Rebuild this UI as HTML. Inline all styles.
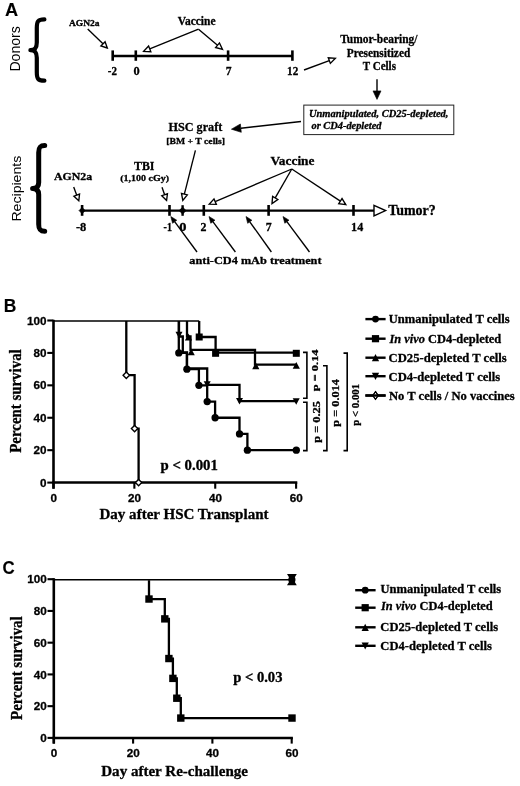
<!DOCTYPE html>
<html><head><meta charset="utf-8"><title>Figure</title>
<style>html,body{margin:0;padding:0;background:#fff;}svg{display:block;}text{stroke:#000;stroke-width:0.3px;stroke-linejoin:round;fill:#000;}</style>
</head><body>
<svg width="520" height="786" viewBox="0 0 520 786">
<rect width="520" height="786" fill="#fff"/>
<path d="M44.4,19.4 C37.8,19.4 36.8,21.4 36.8,28.0 L36.8,42.6 C36.8,48.2 34.8,50.2 30.4,50.2 C34.8,50.2 36.8,52.2 36.8,57.80 L36.8,72.1 C36.8,78.7 37.8,80.7 44.4,80.7" fill="none" stroke="#000" stroke-width="4.2" stroke-linecap="round" stroke-linejoin="round"/>
<line x1="87.7" y1="29" x2="102.99" y2="43.82" stroke="#000" stroke-width="1.35" stroke-linecap="butt"/>
<polygon points="107.30,48.00 100.90,45.98 105.08,41.67" fill="#fff" stroke="#000" stroke-width="1.35" stroke-linejoin="miter"/>
<line x1="112.5" y1="56" x2="292.5" y2="56" stroke="#000" stroke-width="2.7" stroke-linecap="butt"/>
<line x1="112.7" y1="50.4" x2="112.7" y2="60.8" stroke="#000" stroke-width="2.6" stroke-linecap="butt"/>
<line x1="135.8" y1="50.4" x2="135.8" y2="60.8" stroke="#000" stroke-width="2.6" stroke-linecap="butt"/>
<line x1="228.1" y1="50.4" x2="228.1" y2="60.8" stroke="#000" stroke-width="2.6" stroke-linecap="butt"/>
<line x1="292.4" y1="50.4" x2="292.4" y2="60.8" stroke="#000" stroke-width="2.6" stroke-linecap="butt"/>
<line x1="198.5" y1="29.2" x2="149.72" y2="48.86" stroke="#000" stroke-width="1.35" stroke-linecap="butt"/>
<polygon points="143.70,51.30 148.61,46.09 150.85,51.65" fill="#fff" stroke="#000" stroke-width="1.35" stroke-linejoin="miter"/>
<line x1="198.5" y1="29.2" x2="217.52" y2="45.21" stroke="#000" stroke-width="1.35" stroke-linecap="butt"/>
<polygon points="222.50,49.40 215.60,47.51 219.46,42.92" fill="#fff" stroke="#000" stroke-width="1.35" stroke-linejoin="miter"/>
<line x1="304" y1="70" x2="329.30" y2="60.56" stroke="#000" stroke-width="1.35" stroke-linecap="butt"/>
<polygon points="335.40,58.30 330.36,63.38 328.26,57.76" fill="#fff" stroke="#000" stroke-width="1.35" stroke-linejoin="miter"/>
<line x1="377" y1="79.2" x2="377.0" y2="90.9" stroke="#000" stroke-width="1.4" stroke-linecap="butt"/>
<polygon points="377.00,99.40 373.00,90.90 381.00,90.90" fill="#000" stroke="#000" stroke-width="0.6"/>
<rect x="303.8" y="105.1" width="150" height="29.5" fill="none" stroke="#222" stroke-width="1"/>
<line x1="301" y1="121.5" x2="240.84" y2="128.15" stroke="#000" stroke-width="1.5" stroke-linecap="butt"/>
<polygon points="231.40,129.20 240.38,123.98 241.30,132.33" fill="#000" stroke="#000" stroke-width="0.6"/>
<path d="M44.7,145.4 C39.7,145.4 38.7,147.4 38.7,152.4 L38.7,182.4 C38.7,186.4 36.7,188.4 32.6,188.4 C36.7,188.4 38.7,190.4 38.7,194.4 L38.7,224.2 C38.7,229.2 39.7,231.2 44.7,231.2" fill="none" stroke="#000" stroke-width="5.0" stroke-linecap="round" stroke-linejoin="round"/>
<line x1="73.7" y1="186.9" x2="76.73" y2="195.16" stroke="#000" stroke-width="1.35" stroke-linecap="butt"/>
<polygon points="78.80,200.80 73.92,196.20 79.55,194.13" fill="#fff" stroke="#000" stroke-width="1.35" stroke-linejoin="miter"/>
<line x1="162" y1="187.3" x2="164.61" y2="194.73" stroke="#000" stroke-width="1.35" stroke-linecap="butt"/>
<polygon points="166.60,200.40 161.78,195.73 167.44,193.74" fill="#fff" stroke="#000" stroke-width="1.35" stroke-linejoin="miter"/>
<line x1="195.4" y1="150.4" x2="184.38" y2="194.09" stroke="#000" stroke-width="1.35" stroke-linecap="butt"/>
<polygon points="182.80,200.40 181.48,193.36 187.30,194.83" fill="#fff" stroke="#000" stroke-width="1.35" stroke-linejoin="miter"/>
<line x1="82" y1="210.6" x2="374" y2="210.6" stroke="#000" stroke-width="2.4" stroke-linecap="butt"/>
<polygon points="374,205.29 385.6,210.6 374,215.9" fill="#fff" stroke="#000" stroke-width="1.4"/>
<line x1="82.1" y1="205" x2="82.1" y2="215.8" stroke="#000" stroke-width="2.6" stroke-linecap="butt"/>
<line x1="169.5" y1="205" x2="169.5" y2="215.8" stroke="#000" stroke-width="2.6" stroke-linecap="butt"/>
<line x1="203.8" y1="205" x2="203.8" y2="215.8" stroke="#000" stroke-width="2.6" stroke-linecap="butt"/>
<line x1="268.6" y1="205" x2="268.6" y2="215.8" stroke="#000" stroke-width="2.6" stroke-linecap="butt"/>
<line x1="353.5" y1="205" x2="353.5" y2="215.8" stroke="#000" stroke-width="2.6" stroke-linecap="butt"/>
<polygon points="82.1,207.6 85.1,210.6 82.1,213.6 79.1,210.6" fill="#000" stroke="#000" stroke-width="0.8"/>
<polygon points="182.6,207.2 186.0,210.6 182.6,214.0 179.2,210.6" fill="#000" stroke="#000" stroke-width="0.8"/>
<line x1="182.6" y1="205.2" x2="182.6" y2="215.8" stroke="#000" stroke-width="2.4" stroke-linecap="butt"/>
<line x1="291.8" y1="169" x2="215.17" y2="201.65" stroke="#000" stroke-width="1.35" stroke-linecap="butt"/>
<polygon points="209.20,204.20 214.00,198.89 216.36,204.41" fill="#fff" stroke="#000" stroke-width="1.35" stroke-linejoin="miter"/>
<line x1="291.8" y1="169" x2="275.22" y2="197.95" stroke="#000" stroke-width="1.35" stroke-linecap="butt"/>
<polygon points="272.00,203.60 272.62,196.47 277.83,199.45" fill="#fff" stroke="#000" stroke-width="1.35" stroke-linejoin="miter"/>
<line x1="291.8" y1="169" x2="340.37" y2="201.11" stroke="#000" stroke-width="1.35" stroke-linecap="butt"/>
<polygon points="345.80,204.70 338.72,203.62 342.03,198.61" fill="#fff" stroke="#000" stroke-width="1.35" stroke-linejoin="miter"/>
<line x1="197" y1="252" x2="174.65" y2="221.72" stroke="#000" stroke-width="1.35" stroke-linecap="butt"/>
<polygon points="170.80,216.50 176.75,220.19 172.57,223.27" fill="#000" stroke="#000" stroke-width="0.6"/>
<line x1="235.4" y1="252" x2="212.87" y2="221.71" stroke="#000" stroke-width="1.35" stroke-linecap="butt"/>
<polygon points="209.00,216.50 214.97,220.16 210.79,223.27" fill="#000" stroke="#000" stroke-width="0.6"/>
<line x1="271.4" y1="252" x2="249.78" y2="221.78" stroke="#000" stroke-width="1.35" stroke-linecap="butt"/>
<polygon points="246.00,216.50 251.90,220.27 247.67,223.30" fill="#000" stroke="#000" stroke-width="0.6"/>
<line x1="309.5" y1="252" x2="286.88" y2="221.70" stroke="#000" stroke-width="1.35" stroke-linecap="butt"/>
<polygon points="283.00,216.50 288.97,220.15 284.80,223.26" fill="#000" stroke="#000" stroke-width="0.6"/>
<line x1="53.5" y1="319.8" x2="53.5" y2="488.7" stroke="#000" stroke-width="2.6" stroke-linecap="butt"/>
<line x1="52.2" y1="482.6" x2="297.3" y2="482.6" stroke="#000" stroke-width="2.5" stroke-linecap="butt"/>
<line x1="47.3" y1="482.6" x2="53.5" y2="482.6" stroke="#000" stroke-width="2.1" stroke-linecap="butt"/>
<text x="46.5" y="486.70" text-anchor="end" style="font-family:'Liberation Sans',sans-serif;font-weight:bold;font-size:11.7px">0</text>
<line x1="47.3" y1="450.18" x2="53.5" y2="450.18" stroke="#000" stroke-width="2.1" stroke-linecap="butt"/>
<text x="46.5" y="454.28" text-anchor="end" style="font-family:'Liberation Sans',sans-serif;font-weight:bold;font-size:11.7px">20</text>
<line x1="47.3" y1="417.76" x2="53.5" y2="417.76" stroke="#000" stroke-width="2.1" stroke-linecap="butt"/>
<text x="46.5" y="421.86" text-anchor="end" style="font-family:'Liberation Sans',sans-serif;font-weight:bold;font-size:11.7px">40</text>
<line x1="47.3" y1="385.34" x2="53.5" y2="385.34" stroke="#000" stroke-width="2.1" stroke-linecap="butt"/>
<text x="46.5" y="389.44" text-anchor="end" style="font-family:'Liberation Sans',sans-serif;font-weight:bold;font-size:11.7px">60</text>
<line x1="47.3" y1="352.92" x2="53.5" y2="352.92" stroke="#000" stroke-width="2.1" stroke-linecap="butt"/>
<text x="46.5" y="357.02" text-anchor="end" style="font-family:'Liberation Sans',sans-serif;font-weight:bold;font-size:11.7px">80</text>
<line x1="47.3" y1="320.5" x2="53.5" y2="320.5" stroke="#000" stroke-width="2.1" stroke-linecap="butt"/>
<text x="46.5" y="324.60" text-anchor="end" style="font-family:'Liberation Sans',sans-serif;font-weight:bold;font-size:11.7px">100</text>
<line x1="53.5" y1="482.6" x2="53.5" y2="488.7" stroke="#000" stroke-width="2.1" stroke-linecap="butt"/>
<text x="53.70" y="501.9" text-anchor="middle" style="font-family:'Liberation Sans',sans-serif;font-weight:bold;font-size:11.7px">0</text>
<line x1="134.36" y1="482.6" x2="134.36" y2="488.7" stroke="#000" stroke-width="2.1" stroke-linecap="butt"/>
<text x="134.57" y="501.9" text-anchor="middle" style="font-family:'Liberation Sans',sans-serif;font-weight:bold;font-size:11.7px">20</text>
<line x1="215.23" y1="482.6" x2="215.23" y2="488.7" stroke="#000" stroke-width="2.1" stroke-linecap="butt"/>
<text x="215.43" y="501.9" text-anchor="middle" style="font-family:'Liberation Sans',sans-serif;font-weight:bold;font-size:11.7px">40</text>
<line x1="296.1" y1="482.6" x2="296.1" y2="488.7" stroke="#000" stroke-width="2.1" stroke-linecap="butt"/>
<text x="296.30" y="501.9" text-anchor="middle" style="font-family:'Liberation Sans',sans-serif;font-weight:bold;font-size:11.7px">60</text>
<polyline points="126.30,321.00 126.30,375.20 134.60,375.20 134.60,428.60 138.60,428.60 138.60,482.60" fill="none" stroke="#000" stroke-width="2.3" stroke-linejoin="miter"/>
<line x1="53.5" y1="321.0" x2="199.2" y2="321.0" stroke="#000" stroke-width="1.5" stroke-linecap="butt"/>
<polyline points="178.80,321.00 178.80,352.92 186.90,352.92 186.90,369.13 198.90,369.13 198.90,385.34 207.20,385.34 207.20,401.55 215.10,401.55 215.10,417.76 239.50,417.76 239.50,433.97 247.40,433.97 247.40,450.18 296.30,450.18" fill="none" stroke="#000" stroke-width="2.3" stroke-linejoin="miter"/>
<polyline points="179.00,321.00 179.00,336.50 182.80,336.50 182.80,352.30 187.00,352.30 187.00,368.50 207.20,368.50 207.20,384.80 239.50,384.80 239.50,401.20 296.30,401.20" fill="none" stroke="#000" stroke-width="2.3" stroke-linejoin="miter"/>
<polyline points="187.00,321.00 187.00,336.50 190.50,336.50 190.50,349.80 255.00,349.80 255.00,364.60 296.30,364.60" fill="none" stroke="#000" stroke-width="2.3" stroke-linejoin="miter"/>
<polyline points="199.20,321.00 199.20,337.00 215.60,337.00 215.60,352.60 296.30,352.60" fill="none" stroke="#000" stroke-width="2.3" stroke-linejoin="miter"/>
<circle cx="178.8" cy="352.92" r="3.65" fill="#000"/>
<circle cx="186.9" cy="369.13" r="3.65" fill="#000"/>
<circle cx="198.9" cy="385.34" r="3.65" fill="#000"/>
<circle cx="207.2" cy="401.55" r="3.65" fill="#000"/>
<circle cx="215.1" cy="417.76" r="3.65" fill="#000"/>
<circle cx="239.5" cy="433.97" r="3.65" fill="#000"/>
<circle cx="247.4" cy="450.18" r="3.65" fill="#000"/>
<circle cx="296.3" cy="450.18" r="3.65" fill="#000"/>
<polygon points="179,338.25 182.5,331.75 175.5,331.75" fill="#000"/>
<polygon points="207.2,387.75 210.7,381.25 203.7,381.25" fill="#000"/>
<polygon points="239.5,404.55 243.0,398.05 236.0,398.05" fill="#000"/>
<polygon points="296.2,404.65 299.7,398.15 292.7,398.15" fill="#000"/>
<polygon points="188.5,333.6 192.1,340.4 184.9,340.4" fill="#000"/>
<polygon points="191.2,348.40 194.79,355.2 187.6,355.2" fill="#000"/>
<polygon points="255.8,362.5 259.40,369.29 252.20,369.29" fill="#000"/>
<polygon points="296.3,361.90 299.90,368.7 292.7,368.7" fill="#000"/>
<rect x="195.7" y="333.5" width="7.0" height="7.0" fill="#000"/>
<rect x="212.1" y="349.8" width="7.0" height="7.0" fill="#000"/>
<rect x="292.8" y="349.8" width="7.0" height="7.0" fill="#000"/>
<polygon points="126.3,372.0 129.5,375.2 126.3,378.4 123.1,375.2" fill="#fff" stroke="#000" stroke-width="1.4"/>
<polygon points="134.6,425.40 137.79,428.6 134.6,431.8 131.4,428.6" fill="#fff" stroke="#000" stroke-width="1.4"/>
<polygon points="138.6,479.40 141.79,482.6 138.6,485.8 135.4,482.6" fill="#fff" stroke="#000" stroke-width="1.4"/>
<polyline points="303.00,352.40 306.90,352.40 306.90,398.20 303.00,398.20" fill="none" stroke="#000" stroke-width="1.6" stroke-linejoin="miter"/>
<polyline points="303.00,402.30 306.90,402.30 306.90,450.60 303.00,450.60" fill="none" stroke="#000" stroke-width="1.6" stroke-linejoin="miter"/>
<polyline points="323.00,365.80 326.90,365.80 326.90,450.60 323.00,450.60" fill="none" stroke="#000" stroke-width="1.6" stroke-linejoin="miter"/>
<polyline points="343.50,353.10 347.20,353.10 347.20,450.60 343.50,450.60" fill="none" stroke="#000" stroke-width="1.6" stroke-linejoin="miter"/>
<line x1="365.4" y1="319.1" x2="385.6" y2="319.1" stroke="#000" stroke-width="2.4" stroke-linecap="butt"/>
<circle cx="375.5" cy="319.1" r="3.4" fill="#000"/>
<line x1="365.4" y1="338.7" x2="385.6" y2="338.7" stroke="#000" stroke-width="2.4" stroke-linecap="butt"/>
<rect x="371.9" y="335.09" width="7.2" height="7.2" fill="#000"/>
<line x1="365.4" y1="357.7" x2="385.6" y2="357.7" stroke="#000" stroke-width="2.4" stroke-linecap="butt"/>
<polygon points="375.5,354.09 379.1,361.3 371.9,361.3" fill="#000"/>
<line x1="365.4" y1="376.2" x2="385.6" y2="376.2" stroke="#000" stroke-width="2.4" stroke-linecap="butt"/>
<polygon points="375.5,380.0 379.1,372.79 371.9,372.79" fill="#000"/>
<line x1="365.4" y1="395.5" x2="385.6" y2="395.5" stroke="#000" stroke-width="2.4" stroke-linecap="butt"/>
<polygon points="375.5,391.6 378.2,395.5 375.5,399.4 372.8,395.5" fill="#fff" stroke="#000" stroke-width="1.1"/>
<line x1="365.4" y1="395.5" x2="385.6" y2="395.5" stroke="#000" stroke-width="2.4" stroke-linecap="butt"/>
<polygon points="375.5,391.6 378.2,395.5 375.5,399.4 372.8,395.5" fill="none" stroke="#000" stroke-width="1.1"/>
<line x1="53.8" y1="578.2" x2="53.8" y2="743.6" stroke="#000" stroke-width="2.6" stroke-linecap="butt"/>
<line x1="52.5" y1="737.9" x2="292.9" y2="737.9" stroke="#000" stroke-width="2.5" stroke-linecap="butt"/>
<line x1="47.5" y1="737.9" x2="53.8" y2="737.9" stroke="#000" stroke-width="2.1" stroke-linecap="butt"/>
<text x="46.7" y="742.00" text-anchor="end" style="font-family:'Liberation Sans',sans-serif;font-weight:bold;font-size:11.7px">0</text>
<line x1="47.5" y1="706.16" x2="53.8" y2="706.16" stroke="#000" stroke-width="2.1" stroke-linecap="butt"/>
<text x="46.7" y="710.26" text-anchor="end" style="font-family:'Liberation Sans',sans-serif;font-weight:bold;font-size:11.7px">20</text>
<line x1="47.5" y1="674.42" x2="53.8" y2="674.42" stroke="#000" stroke-width="2.1" stroke-linecap="butt"/>
<text x="46.7" y="678.52" text-anchor="end" style="font-family:'Liberation Sans',sans-serif;font-weight:bold;font-size:11.7px">40</text>
<line x1="47.5" y1="642.68" x2="53.8" y2="642.68" stroke="#000" stroke-width="2.1" stroke-linecap="butt"/>
<text x="46.7" y="646.78" text-anchor="end" style="font-family:'Liberation Sans',sans-serif;font-weight:bold;font-size:11.7px">60</text>
<line x1="47.5" y1="610.93" x2="53.8" y2="610.93" stroke="#000" stroke-width="2.1" stroke-linecap="butt"/>
<text x="46.7" y="615.04" text-anchor="end" style="font-family:'Liberation Sans',sans-serif;font-weight:bold;font-size:11.7px">80</text>
<line x1="47.5" y1="579.2" x2="53.8" y2="579.2" stroke="#000" stroke-width="2.1" stroke-linecap="butt"/>
<text x="46.7" y="583.30" text-anchor="end" style="font-family:'Liberation Sans',sans-serif;font-weight:bold;font-size:11.7px">100</text>
<line x1="53.8" y1="737.9" x2="53.8" y2="743.6" stroke="#000" stroke-width="2.1" stroke-linecap="butt"/>
<text x="54.00" y="756.5" text-anchor="middle" style="font-family:'Liberation Sans',sans-serif;font-weight:bold;font-size:11.7px">0</text>
<line x1="133.1" y1="737.9" x2="133.1" y2="743.6" stroke="#000" stroke-width="2.1" stroke-linecap="butt"/>
<text x="133.30" y="756.5" text-anchor="middle" style="font-family:'Liberation Sans',sans-serif;font-weight:bold;font-size:11.7px">20</text>
<line x1="212.39" y1="737.9" x2="212.39" y2="743.6" stroke="#000" stroke-width="2.1" stroke-linecap="butt"/>
<text x="212.60" y="756.5" text-anchor="middle" style="font-family:'Liberation Sans',sans-serif;font-weight:bold;font-size:11.7px">40</text>
<line x1="291.7" y1="737.9" x2="291.7" y2="743.6" stroke="#000" stroke-width="2.1" stroke-linecap="butt"/>
<text x="291.90" y="756.5" text-anchor="middle" style="font-family:'Liberation Sans',sans-serif;font-weight:bold;font-size:11.7px">60</text>
<line x1="53.8" y1="579.8" x2="291.7" y2="579.8" stroke="#000" stroke-width="1.6" stroke-linecap="butt"/>
<polyline points="149.00,580.20 149.00,599.04 164.80,599.04 164.80,618.88 168.90,618.88 168.90,658.55 172.90,658.55 172.90,678.39 176.80,678.39 176.80,698.23 180.80,698.23 180.80,718.06 292.00,718.06" fill="none" stroke="#000" stroke-width="2.3" stroke-linejoin="miter"/>
<rect x="145.3" y="595.33" width="7.4" height="7.4" fill="#000"/>
<rect x="161.10" y="615.17" width="7.4" height="7.4" fill="#000"/>
<rect x="165.20" y="654.84" width="7.4" height="7.4" fill="#000"/>
<rect x="169.20" y="674.68" width="7.4" height="7.4" fill="#000"/>
<rect x="173.10" y="694.52" width="7.4" height="7.4" fill="#000"/>
<rect x="177.10" y="714.36" width="7.4" height="7.4" fill="#000"/>
<rect x="288.3" y="714.36" width="7.4" height="7.4" fill="#000"/>
<polygon points="291.9,577.3 296.79,585.3 287.0,585.3" fill="#000"/>
<polygon points="291.9,582.0 296.79,574.0 287.0,574.0" fill="#000"/>
<circle cx="291.9" cy="579.7" r="3.6" fill="#000"/>
<line x1="355.2" y1="590.2" x2="375.6" y2="590.2" stroke="#000" stroke-width="2.4" stroke-linecap="butt"/>
<circle cx="365.2" cy="590.2" r="3.4" fill="#000"/>
<line x1="355.2" y1="607.7" x2="375.6" y2="607.7" stroke="#000" stroke-width="2.4" stroke-linecap="butt"/>
<rect x="361.59" y="604.1" width="7.2" height="7.2" fill="#000"/>
<line x1="355.2" y1="627.3" x2="375.6" y2="627.3" stroke="#000" stroke-width="2.4" stroke-linecap="butt"/>
<polygon points="365.2,623.69 368.8,630.9 361.59,630.9" fill="#000"/>
<line x1="355.2" y1="645.8" x2="375.6" y2="645.8" stroke="#000" stroke-width="2.4" stroke-linecap="butt"/>
<polygon points="365.2,649.6 368.8,642.4 361.59,642.4" fill="#000"/>
<text x="5.10" y="15.60" style="font-family:'Liberation Sans',sans-serif;font-weight:bold;font-size:18.26px;;stroke-width:0.12px" textLength="13.16" lengthAdjust="spacingAndGlyphs">A</text>
<text transform="translate(19.60,48.93) rotate(-90)" text-anchor="middle" style="font-family:'Liberation Sans',sans-serif;font-size:14.87px;;stroke-width:0" textLength="45.32" lengthAdjust="spacingAndGlyphs">Donors</text>
<text x="69.00" y="25.60" style="font-family:'Liberation Serif',serif;font-weight:bold;font-size:8.90px;" textLength="30.50" lengthAdjust="spacingAndGlyphs">AGN2a</text>
<text x="177.74" y="25.00" style="font-family:'Liberation Serif',serif;font-weight:bold;font-size:11.81px;" textLength="37.75" lengthAdjust="spacingAndGlyphs">Vaccine</text>
<text x="107.84" y="74.50" style="font-family:'Liberation Serif',serif;font-weight:bold;font-size:11.88px;" textLength="9.17" lengthAdjust="spacingAndGlyphs">-2</text>
<text x="133.56" y="74.50" style="font-family:'Liberation Serif',serif;font-weight:bold;font-size:11.88px;" textLength="6.18" lengthAdjust="spacingAndGlyphs">0</text>
<text x="225.64" y="74.50" style="font-family:'Liberation Serif',serif;font-weight:bold;font-size:12.03px;" textLength="5.83" lengthAdjust="spacingAndGlyphs">7</text>
<text x="287.06" y="74.50" style="font-family:'Liberation Serif',serif;font-weight:bold;font-size:12.03px;" textLength="11.17" lengthAdjust="spacingAndGlyphs">12</text>
<text x="340.24" y="43.00" style="font-family:'Liberation Serif',serif;font-weight:bold;font-size:12.58px;" textLength="77.28" lengthAdjust="spacingAndGlyphs">Tumor-bearing/</text>
<text x="346.76" y="56.80" style="font-family:'Liberation Serif',serif;font-weight:bold;font-size:12.42px;" textLength="63.50" lengthAdjust="spacingAndGlyphs">Presensitized</text>
<text x="362.74" y="70.10" style="font-family:'Liberation Serif',serif;font-weight:bold;font-size:12.42px;" textLength="33.24" lengthAdjust="spacingAndGlyphs">T Cells</text>
<text x="308.90" y="116.60" style="font-family:'Liberation Serif',serif;font-weight:bold;font-size:10.58px;font-style:italic" textLength="139.59" lengthAdjust="spacingAndGlyphs">Unmanipulated, CD25-depleted,</text>
<text x="311.50" y="128.50" style="font-family:'Liberation Serif',serif;font-weight:bold;font-size:9.97px;font-style:italic" textLength="70.03" lengthAdjust="spacingAndGlyphs">or CD4-depleted</text>
<text x="168.52" y="130.80" style="font-family:'Liberation Serif',serif;font-weight:bold;font-size:13.04px;" textLength="53.76" lengthAdjust="spacingAndGlyphs">HSC graft</text>
<text x="166.36" y="143.50" style="font-family:'Liberation Serif',serif;font-weight:bold;font-size:9.05px;" textLength="58.64" lengthAdjust="spacingAndGlyphs">[BM + T cells]</text>
<text transform="translate(20.50,188.67) rotate(-90)" text-anchor="middle" style="font-family:'Liberation Sans',sans-serif;font-size:13.14px;;stroke-width:0" textLength="65.81" lengthAdjust="spacingAndGlyphs">Recipients</text>
<text x="54.00" y="180.00" style="font-family:'Liberation Serif',serif;font-weight:bold;font-size:10.58px;" textLength="38.23" lengthAdjust="spacingAndGlyphs">AGN2a</text>
<text x="134.00" y="170.30" style="font-family:'Liberation Serif',serif;font-weight:bold;font-size:12.42px;" textLength="20.47" lengthAdjust="spacingAndGlyphs">TBI</text>
<text x="120.30" y="180.70" style="font-family:'Liberation Serif',serif;font-weight:bold;font-size:8.90px;" textLength="48.69" lengthAdjust="spacingAndGlyphs">(1,100 cGy)</text>
<text x="75.94" y="231.30" style="font-family:'Liberation Serif',serif;font-weight:bold;font-size:12.33px;" textLength="10.38" lengthAdjust="spacingAndGlyphs">-8</text>
<text x="163.56" y="231.30" style="font-family:'Liberation Serif',serif;font-weight:bold;font-size:12.48px;" textLength="8.40" lengthAdjust="spacingAndGlyphs">-1</text>
<text x="179.24" y="231.40" style="font-family:'Liberation Serif',serif;font-weight:bold;font-size:12.18px;" textLength="7.23" lengthAdjust="spacingAndGlyphs">0</text>
<text x="200.58" y="231.30" style="font-family:'Liberation Serif',serif;font-weight:bold;font-size:12.03px;" textLength="5.97" lengthAdjust="spacingAndGlyphs">2</text>
<text x="265.86" y="231.00" style="font-family:'Liberation Serif',serif;font-weight:bold;font-size:11.88px;" textLength="5.96" lengthAdjust="spacingAndGlyphs">7</text>
<text x="351.10" y="231.40" style="font-family:'Liberation Serif',serif;font-weight:bold;font-size:12.33px;" textLength="12.08" lengthAdjust="spacingAndGlyphs">14</text>
<text x="388.16" y="214.80" style="font-family:'Liberation Serif',serif;font-weight:bold;font-size:13.80px;" textLength="47.59" lengthAdjust="spacingAndGlyphs">Tumor?</text>
<text x="270.46" y="164.60" style="font-family:'Liberation Serif',serif;font-weight:bold;font-size:12.73px;" textLength="43.99" lengthAdjust="spacingAndGlyphs">Vaccine</text>
<text x="189.34" y="264.10" style="font-family:'Liberation Serif',serif;font-weight:bold;font-size:11.35px;" textLength="132.22" lengthAdjust="spacingAndGlyphs">anti-CD4 mAb treatment</text>
<text x="3.78" y="312.20" style="font-family:'Liberation Sans',sans-serif;font-weight:bold;font-size:17.94px;;stroke-width:0.12px" textLength="12.63" lengthAdjust="spacingAndGlyphs">B</text>
<text transform="translate(21.10,401.02) rotate(-90)" text-anchor="middle" style="font-family:'Liberation Serif',serif;font-weight:bold;font-size:16.41px;" textLength="103.47" lengthAdjust="spacingAndGlyphs">Percent survival</text>
<text x="99.50" y="519.40" style="font-family:'Liberation Serif',serif;font-weight:bold;font-size:15.18px;" textLength="169.00" lengthAdjust="spacingAndGlyphs">Day after HSC Transplant</text>
<text x="160.52" y="470.30" style="font-family:'Liberation Serif',serif;font-weight:bold;font-size:13.68px;" textLength="57.42" lengthAdjust="spacingAndGlyphs">p &lt; 0.001</text>
<text transform="translate(317.50,370.38) rotate(-90)" text-anchor="middle" style="font-family:'Liberation Serif',serif;font-weight:bold;font-size:9.02px;" textLength="41.73" lengthAdjust="spacingAndGlyphs">p = 0.14</text>
<text transform="translate(319.80,421.92) rotate(-90)" text-anchor="middle" style="font-family:'Liberation Serif',serif;font-weight:bold;font-size:9.77px;" textLength="41.73" lengthAdjust="spacingAndGlyphs">p = 0.25</text>
<text transform="translate(339.30,402.88) rotate(-90)" text-anchor="middle" style="font-family:'Liberation Serif',serif;font-weight:bold;font-size:10.98px;" textLength="47.73" lengthAdjust="spacingAndGlyphs">p = 0.014</text>
<text transform="translate(359.30,404.81) rotate(-90)" text-anchor="middle" style="font-family:'Liberation Serif',serif;font-weight:bold;font-size:10.68px;" textLength="41.95" lengthAdjust="spacingAndGlyphs">p &lt; 0.001</text>
<text x="388.80" y="323.10" style="font-family:'Liberation Serif',serif;font-weight:bold;font-size:12.73px;" textLength="120.95" lengthAdjust="spacingAndGlyphs">Unmanipulated T cells</text>
<text x="389.44" y="342.90" style="font-family:'Liberation Serif',serif;font-weight:bold;font-size:12.73px;" textLength="111.78" lengthAdjust="spacingAndGlyphs"><tspan style="font-style:italic">In vivo</tspan> CD4-depleted</text>
<text x="388.60" y="362.00" style="font-family:'Liberation Serif',serif;font-weight:bold;font-size:13.04px;" textLength="118.17" lengthAdjust="spacingAndGlyphs">CD25-depleted T cells</text>
<text x="388.60" y="381.30" style="font-family:'Liberation Serif',serif;font-weight:bold;font-size:12.88px;" textLength="111.67" lengthAdjust="spacingAndGlyphs">CD4-depleted T cells</text>
<text x="389.00" y="400.40" style="font-family:'Liberation Serif',serif;font-weight:bold;font-size:12.58px;" textLength="125.74" lengthAdjust="spacingAndGlyphs">No T cells / No vaccines</text>
<text x="2.38" y="574.30" style="font-family:'Liberation Sans',sans-serif;font-weight:bold;font-size:18.63px;;stroke-width:0.12px" textLength="12.16" lengthAdjust="spacingAndGlyphs">C</text>
<text transform="translate(22.30,668.14) rotate(-90)" text-anchor="middle" style="font-family:'Liberation Serif',serif;font-weight:bold;font-size:15.95px;" textLength="103.71" lengthAdjust="spacingAndGlyphs">Percent survival</text>
<text x="101.26" y="775.80" style="font-family:'Liberation Serif',serif;font-weight:bold;font-size:14.42px;" textLength="146.71" lengthAdjust="spacingAndGlyphs">Day after Re-challenge</text>
<text x="233.24" y="682.20" style="font-family:'Liberation Serif',serif;font-weight:bold;font-size:13.98px;" textLength="49.23" lengthAdjust="spacingAndGlyphs">p &lt; 0.03</text>
<text x="380.56" y="593.40" style="font-family:'Liberation Serif',serif;font-weight:bold;font-size:12.58px;" textLength="120.69" lengthAdjust="spacingAndGlyphs">Unmanipulated T cells</text>
<text x="380.96" y="610.10" style="font-family:'Liberation Serif',serif;font-weight:bold;font-size:12.73px;" textLength="111.76" lengthAdjust="spacingAndGlyphs"><tspan style="font-style:italic">In vivo</tspan> CD4-depleted</text>
<text x="380.36" y="630.60" style="font-family:'Liberation Serif',serif;font-weight:bold;font-size:13.19px;" textLength="117.68" lengthAdjust="spacingAndGlyphs">CD25-depleted T cells</text>
<text x="380.36" y="649.70" style="font-family:'Liberation Serif',serif;font-weight:bold;font-size:13.19px;" textLength="111.42" lengthAdjust="spacingAndGlyphs">CD4-depleted T cells</text>
</svg>
</body></html>
